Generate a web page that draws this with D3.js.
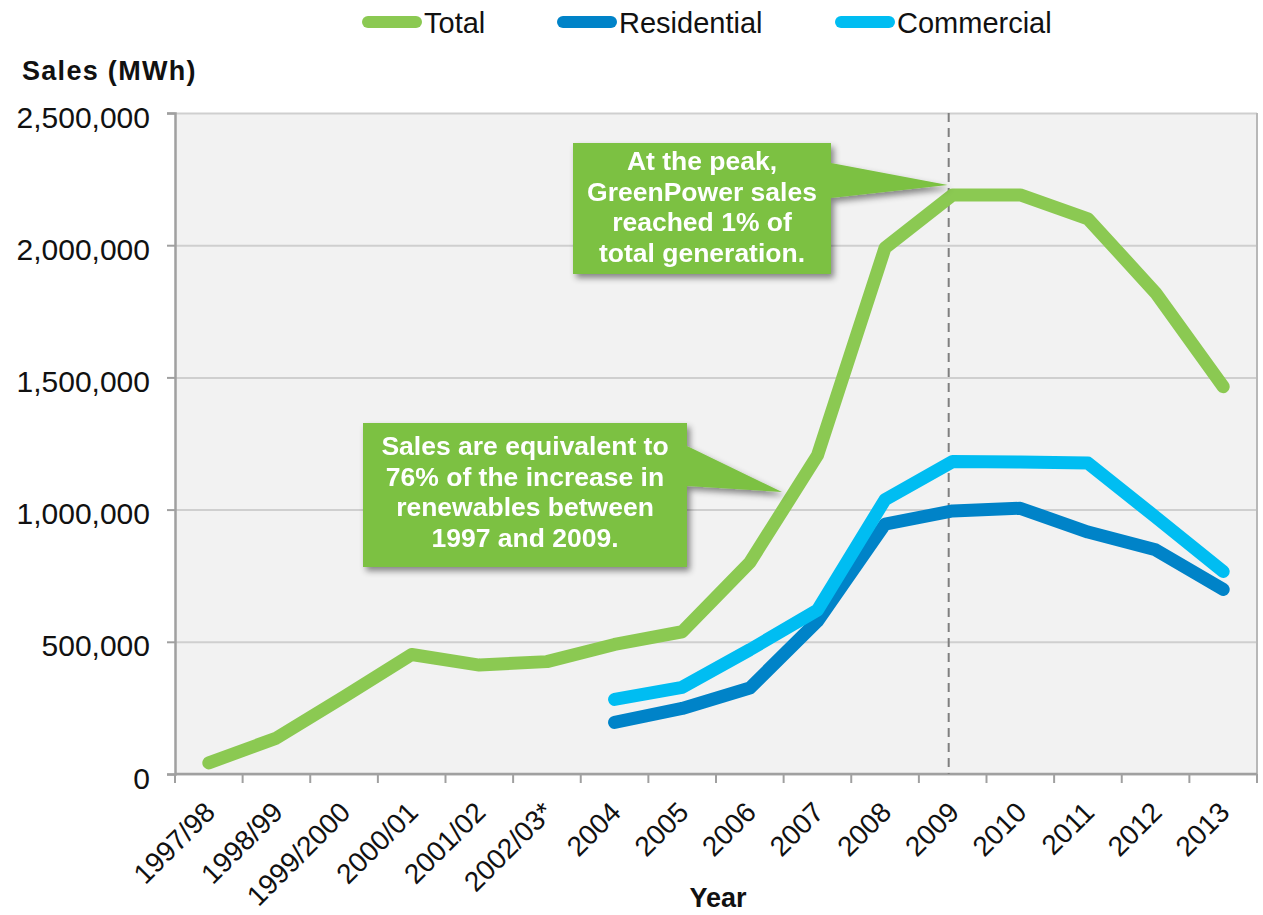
<!DOCTYPE html>
<html>
<head>
<meta charset="utf-8">
<script src="https://cdn.jsdelivr.net/npm/d3@7"></script>
<style>
    body { margin: 0; background: #fff; }
    svg text { font-family: Arial, "Liberation Sans", Helvetica, sans-serif; }
</style>
</head>
<body>
<div id="chart"></div>
<script>
// categories and series values (MWh)
const years = ['1997/98', '1998/99', '1999/2000', '2000/01', '2001/02', '2002/03*', '2004', '2005',
    '2006', '2007', '2008', '2009', '2010', '2011', '2012', '2013'];
const totalSales = [42000, 136000, 292000, 452000, 412000, 425000, 490000, 538000,
    800000, 1205000, 1990000, 2190000, 2190000, 2100000, 1820000, 1465000];
// residential and commercial only reported from 2004
const splitYears = ['2004', '2005', '2006', '2007', '2008', '2009', '2010', '2011', '2012', '2013'];
const residentialSales = [195000, 248000, 325000, 578000, 945000, 995000, 1005000, 915000, 848000, 698000];
const commercialSales = [282000, 328000, 470000, 620000, 1038000, 1182000, 1180000, 1176000, 972000, 766000];
const yTicks = [0, 500000, 1000000, 1500000, 2000000, 2500000];

const seriesNames = ['Total', 'Residential', 'Commercial'];
const seriesColors = ['#8bc952', '#0083c8', '#00bdf2'];

const peakYear = '2009';
const callouts = [
    { lines: ['At the peak,', 'GreenPower sales', 'reached 1% of', 'total generation.'], box: [573, 143, 258, 131], base: [163, 198], tip: 'peak', firstBaseline: 170 },
    { lines: ['Sales are equivalent to', '76% of the increase in', 'renewables between', '1997 and 2009.'], box: [363, 423, 324, 144], base: [446, 486], tip: [782, 492], firstBaseline: 455 }
];

class SalesChart {
    constructor(_config) {
        this.config = {
            parentElement: _config.parentElement,
            containerWidth: 1263,
            containerHeight: 915,
            margin: { top: 113, right: 6, bottom: 141, left: 175 }
        };
        this.initVis();
    }

    initVis() {
        let vis = this;
        vis.width = vis.config.containerWidth - vis.config.margin.left - vis.config.margin.right;
        vis.height = vis.config.containerHeight - vis.config.margin.top - vis.config.margin.bottom;

        vis.svg = d3.select(vis.config.parentElement).append('svg')
            .attr('width', vis.config.containerWidth)
            .attr('height', vis.config.containerHeight);

        const shadow = vis.svg.append('defs').append('filter')
            .attr('id', 'shadow')
            .attr('x', '-10%').attr('y', '-10%').attr('width', '130%').attr('height', '140%');
        shadow.append('feDropShadow')
            .attr('dx', 3).attr('dy', 4).attr('stdDeviation', 3)
            .attr('flood-color', '#000').attr('flood-opacity', 0.45);

        vis.chart = vis.svg.append('g')
            .attr('transform', `translate(${vis.config.margin.left},${vis.config.margin.top})`);

        vis.xScale = d3.scaleBand().domain(years).range([0, vis.width]);
        vis.yScale = d3.scaleLinear().domain([0, 2500000]).range([vis.height, 0]);

        vis.updateVis();
    }

    updateVis() {
        let vis = this;
        vis.series = [
            years.map((y, i) => ({ year: y, value: totalSales[i] })),
            splitYears.map((y, i) => ({ year: y, value: residentialSales[i] })),
            splitYears.map((y, i) => ({ year: y, value: commercialSales[i] }))
        ];
        vis.renderVis();
    }

    renderVis() {
        let vis = this;
        const x = d => vis.xScale(d) + vis.xScale.bandwidth() / 2;

        // plot background
        vis.chart.append('rect')
            .attr('width', vis.width)
            .attr('height', vis.height)
            .attr('fill', '#f2f2f2');

        // horizontal gridlines
        vis.chart.append('g')
            .call(d3.axisLeft(vis.yScale).tickValues(yTicks).tickSize(-vis.width).tickFormat(''))
            .call(g => g.select('.domain').remove())
            .call(g => g.selectAll('line').attr('stroke', '#cfcfcf').attr('stroke-width', 2));

        // right border
        vis.chart.append('line')
            .attr('x1', vis.width).attr('x2', vis.width)
            .attr('y1', 0).attr('y2', vis.height)
            .attr('stroke', '#b8b8b8').attr('stroke-width', 2);

        // y axis
        const yAxisG = vis.chart.append('g')
            .call(d3.axisLeft(vis.yScale).tickValues(yTicks).tickSize(8).tickPadding(17)
                .tickFormat(d3.format(',')));
        yAxisG.select('.domain').attr('stroke', '#a0a0a0').attr('stroke-width', 2.5);
        yAxisG.selectAll('line').attr('stroke', '#a0a0a0').attr('stroke-width', 2);
        yAxisG.selectAll('text')
            .attr('font-size', 30)
            .attr('fill', '#111')
            .attr('dy', '0.47em');

        // x axis: ticks between categories
        const xAxisG = vis.chart.append('g')
            .attr('transform', `translate(0,${vis.height})`);
        xAxisG.append('line')
            .attr('x1', 0).attr('x2', vis.width)
            .attr('stroke', '#a0a0a0').attr('stroke-width', 2.5);
        xAxisG.selectAll('.tick')
            .data(years.concat(['end']))
            .join('line')
            .attr('class', 'tick')
            .attr('x1', d => d === 'end' ? vis.width : vis.xScale(d))
            .attr('x2', d => d === 'end' ? vis.width : vis.xScale(d))
            .attr('y1', 0).attr('y2', 9)
            .attr('stroke', '#a0a0a0').attr('stroke-width', 2);
        xAxisG.selectAll('.xlabel')
            .data(years)
            .join('text')
            .attr('class', 'xlabel')
            .attr('transform', d => `translate(${x(d) + 8},${40}) rotate(-45)`)
            .attr('text-anchor', 'end')
            .attr('font-size', 28)
            .attr('fill', '#111')
            .text(d => d);

        // peak marker
        vis.chart.append('line')
            .attr('x1', x(peakYear) - 4).attr('x2', x(peakYear) - 4)
            .attr('y1', 0).attr('y2', vis.height)
            .attr('stroke', '#7f7f7f').attr('stroke-width', 2)
            .attr('stroke-dasharray', '9,6');

        // lines
        const line = d3.line()
            .x(d => x(d.year))
            .y(d => vis.yScale(d.value));

        vis.chart.selectAll('.series')
            .data(vis.series)
            .join('path')
            .attr('class', 'series')
            .attr('d', line)
            .attr('fill', 'none')
            .attr('stroke', (d, i) => seriesColors[i])
            .attr('stroke-width', 13)
            .attr('stroke-linecap', 'round')
            .attr('stroke-linejoin', 'round');

        // callouts
        const peakTip = [
            vis.config.margin.left + x(peakYear) - 5,
            vis.config.margin.top + vis.yScale(totalSales[years.indexOf(peakYear)]) - 10
        ];
        const calloutG = vis.svg.selectAll('.callout')
            .data(callouts)
            .join('g')
            .attr('class', 'callout')
            .attr('filter', 'url(#shadow)');

        calloutG.append('path')
            .attr('fill', '#7bc143')
            .attr('d', d => {
                const [bx, by, bw, bh] = d.box;
                const tip = d.tip === 'peak' ? peakTip : d.tip;
                return `M${bx},${by}H${bx + bw}V${d.base[0]}L${tip[0]},${tip[1]}L${bx + bw},${d.base[1]}V${by + bh}H${bx}Z`;
            });

        calloutG.each(function (d) {
            const g = d3.select(this);
            const cx = d.box[0] + d.box[2] / 2;
            g.selectAll('text')
                .data(d.lines)
                .join('text')
                .attr('x', cx)
                .attr('y', (l, i) => d.firstBaseline + i * 30.7)
                .attr('text-anchor', 'middle')
                .attr('font-size', 26.5)
                .attr('font-weight', 'bold')
                .attr('fill', '#fff')
                .text(l => l);
        });

        // axis titles
        vis.svg.append('text')
            .attr('x', 22).attr('y', 80)
            .attr('font-size', 27)
            .attr('font-weight', 'bold')
            .attr('letter-spacing', 1.3)
            .attr('fill', '#111')
            .text('Sales (MWh)');

        vis.svg.append('text')
            .attr('x', 718).attr('y', 907)
            .attr('text-anchor', 'middle')
            .attr('font-size', 27)
            .attr('font-weight', 'bold')
            .attr('fill', '#111')
            .text('Year');

        // legend
        const legendX = [362, 557, 835];
        const legend = vis.svg.selectAll('.legend')
            .data(seriesNames)
            .join('g')
            .attr('class', 'legend')
            .attr('transform', (d, i) => `translate(${legendX[i]},22)`);

        legend.append('line')
            .attr('x1', 6).attr('x2', 54)
            .attr('stroke', (d, i) => seriesColors[i])
            .attr('stroke-width', 12)
            .attr('stroke-linecap', 'round');

        legend.append('text')
            .attr('x', 62).attr('y', 11)
            .attr('font-size', 29)
            .attr('fill', '#111')
            .text(d => d);
    }
}

new SalesChart({ parentElement: '#chart' });
</script>
</body>
</html>
